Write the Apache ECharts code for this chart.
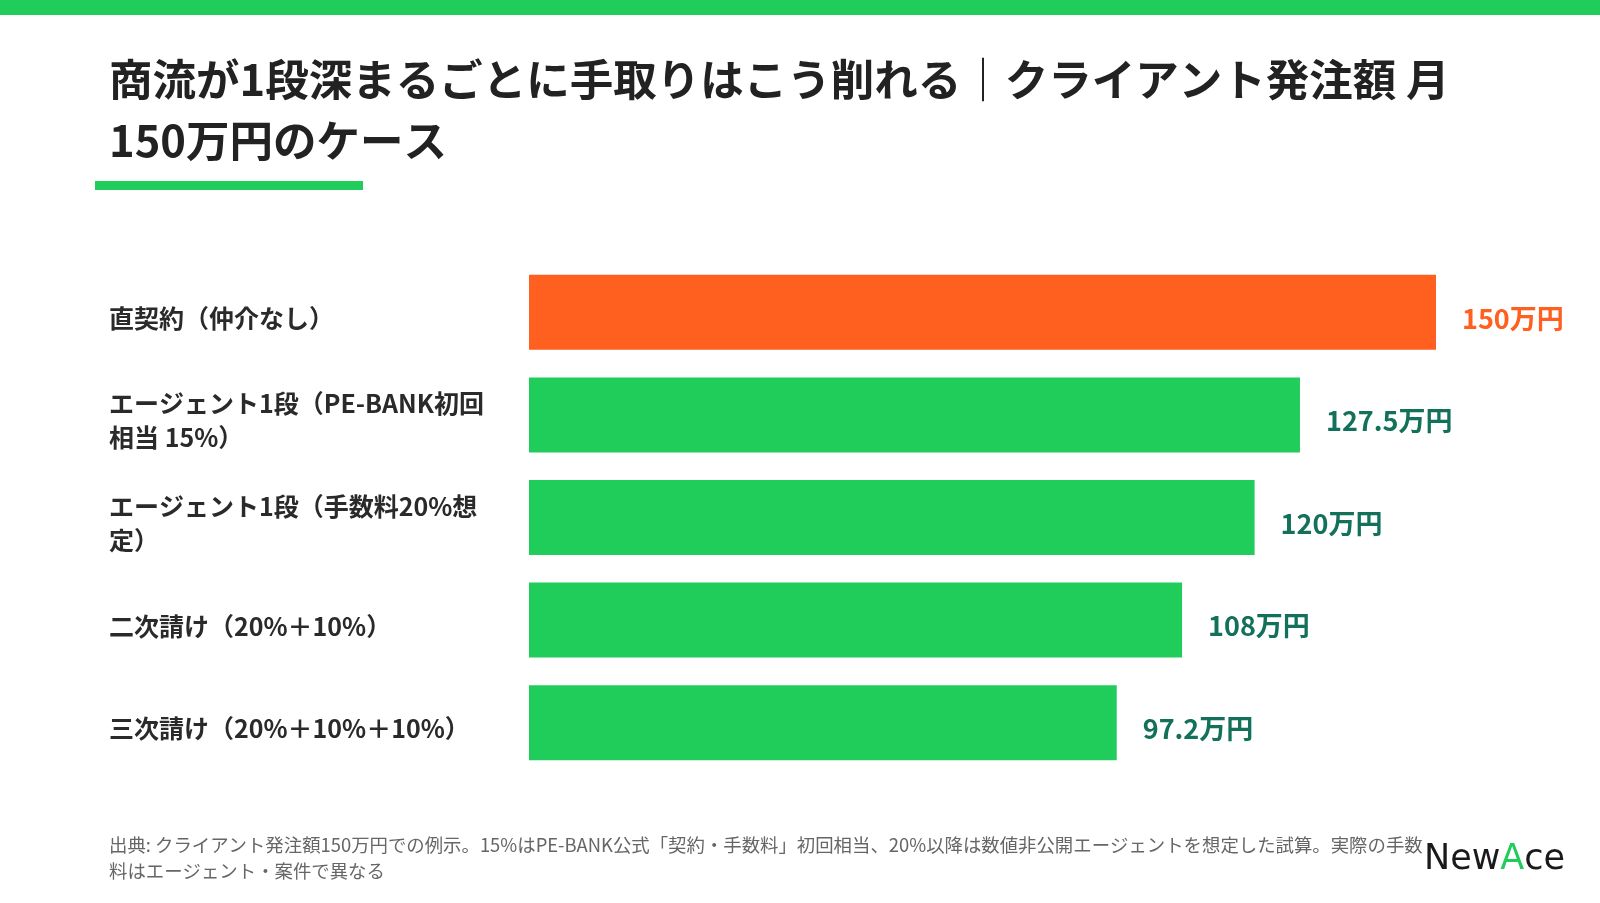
<!DOCTYPE html>
<html>
<head>
<meta charset="utf-8">
<script src="https://cdn.jsdelivr.net/npm/echarts@6/dist/echarts.min.js"></script>
<style>
  html, body { margin: 0; padding: 0; background: #fff; }
  #chart { width: 1600px; height: 903px; }
</style>
</head>
<body>
<div id="chart"></div>
<script>
// data
const categories = [
    '直契約（仲介なし）',
    'エージェント1段（PE-BANK初回相当 15%）',
    'エージェント1段（手数料20%想定）',
    '二次請け（20%＋10%）',
    '三次請け（20%＋10%＋10%）'
];
const takeHome = [150, 127.5, 120, 108, 97.2];
const highlightIndex = 0;
const unit = '万円';

const titleText = '商流が1段深まるごとに手取りはこう削れる｜クライアント発注額 月\n150万円のケース';
const noteText = '出典: クライアント発注額150万円での例示。15%はPE-BANK公式「契約・手数料」初回相当、20%以降は数値非公開エージェントを想定した試算。実際の手数料はエージェント・案件で異なる';

const GREEN = '#20CC5A';
const ORANGE = '#FF5F1F';
const DARK_GREEN = '#13705A';
const FONT = '"Noto Sans CJK JP", "Noto Sans", sans-serif';

const chart = echarts.init(document.getElementById('chart'));

const barData = takeHome.map((v, i) => {
    const hi = i === highlightIndex;
    return {
        value: v,
        itemStyle: { color: hi ? ORANGE : GREEN },
        label: { color: hi ? ORANGE : DARK_GREEN }
    };
});

chart.setOption({
    backgroundColor: '#fff',
    animation: false,
    title: [
        {
            text: titleText,
            left: 109,
            top: 49,
            padding: 0,
            textStyle: {
                fontFamily: FONT,
                fontSize: 43.5,
                fontWeight: 'bold',
                color: '#222',
                lineHeight: 61
            }
        },
        {
            text: noteText,
            left: 109,
            top: 832,
            padding: 0,
            textStyle: {
                fontFamily: FONT,
                fontSize: 18.4,
                fontWeight: 'normal',
                color: '#666',
                lineHeight: 26,
                width: 1322,
                overflow: 'break'
            }
        }
    ],
    graphic: [
        { type: 'rect', left: 0, top: 0, shape: { width: 1600, height: 15 }, style: { fill: GREEN } },
        { type: 'rect', left: 95, top: 181, shape: { width: 268, height: 9 }, style: { fill: GREEN } },
        {
            type: 'text',
            left: 1424,
            top: 842,
            style: {
                text: '{k|New}{a|A}{k|ce}',
                rich: {
                    k: { fontFamily: '"DejaVu Sans", sans-serif', fontSize: 35, fontWeight: 500, fill: '#1a1a1a' },
                    a: { fontFamily: '"DejaVu Sans", sans-serif', fontSize: 35, fontWeight: 500, fill: GREEN }
                }
            }
        }
    ],
    grid: { left: 529, right: 164, top: 261, bottom: 129 },
    xAxis: { type: 'value', min: 0, max: 150, show: false },
    yAxis: {
        type: 'category',
        data: categories,
        inverse: true,
        axisLine: { show: false },
        axisTick: { show: false },
        splitLine: { show: false },
        axisLabel: {
            align: 'left',
            margin: 420,
            width: 380,
            overflow: 'break',
            padding: [12, 0, 0, 0],
            formatter: (v) => '{t|' + v + '}',
            rich: {
                t: {
                    fontFamily: FONT,
                    fontSize: 25,
                    fontWeight: 'bold',
                    color: '#2a2a2a',
                    lineHeight: 34
                }
            }
        }
    },
    series: [{
        type: 'bar',
        data: barData,
        barWidth: 75,
        label: {
            show: true,
            position: 'right',
            distance: 26,
            offset: [0, 6],
            fontFamily: FONT,
            fontSize: 27,
            fontWeight: 'bold',
            formatter: (p) => p.value + unit
        }
    }]
});

window.onresize = () => chart.resize();
</script>
</body>
</html>
